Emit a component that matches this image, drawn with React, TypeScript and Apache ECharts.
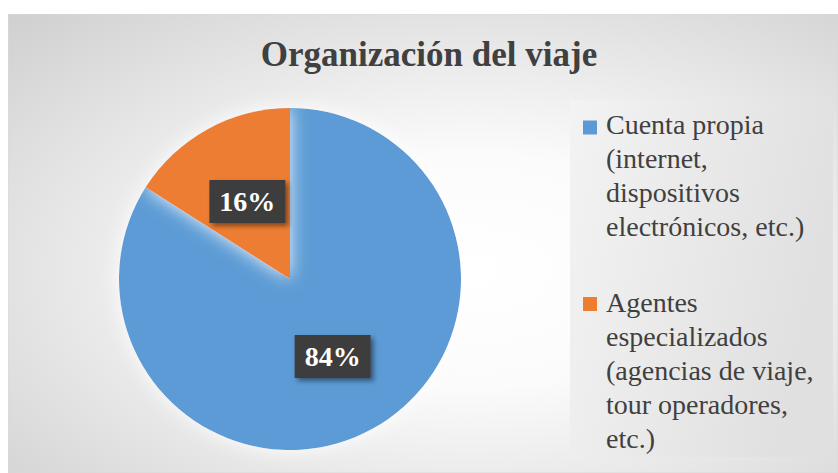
import React, { useEffect, useRef } from "react";
import * as echarts from "echarts";

const titleText = "Organización del viaje";
const categories = [
  "Cuenta propia (internet, dispositivos electrónicos, etc.)",
  "Agentes especializados (agencias de viaje, tour operadores, etc.)",
];
const values = [84, 16];
const colors = ["#5B9BD5", "#ED7D31"];
const legendLines = [
  ["Cuenta propia", "(internet,", "dispositivos", "electrónicos, etc.)"],
  ["Agentes", "especializados", "(agencias de viaje,", "tour operadores,", "etc.)"],
];

const FONT = "Liberation Serif";

export default function App() {
  const ref = useRef<HTMLDivElement>(null);

  useEffect(() => {
    if (!ref.current) return;
    const chart = echarts.init(ref.current, undefined, { renderer: "svg" });
    const W = 830;
    const H = 459;
    const legendTop = [93.5, 271.5];
    const markerTop = [106.5, 283];

    const legendGraphics: any[] = [];
    categories.forEach((c, i) => {
      legendGraphics.push({
        type: "rect",
        shape: { x: 575, y: markerTop[i], width: 14, height: 14 },
        style: { fill: colors[i] },
        z: 10,
      });
      legendGraphics.push({
        type: "text",
        x: 598,
        y: legendTop[i],
        style: {
          text: legendLines[i].join("\n"),
          fill: "#404040",
          fontSize: 28,
          fontFamily: FONT,
          lineHeight: 34,
          verticalAlign: "top",
          align: "left",
        },
        z: 10,
      });
    });

    chart.setOption({
      animation: false,
      graphic: [
        {
          type: "rect",
          shape: { x: 0, y: 0, width: W, height: H },
          style: {
            fill: {
              type: "radial",
              x: 0.56,
              y: 0.56,
              r: 1.15,
              colorStops: [
                { offset: 0, color: "#ffffff" },
                { offset: 0.22, color: "#fbfbfb" },
                { offset: 1, color: "#b2b2b2" },
              ],
            },
            stroke: "#d9d9d9",
            lineWidth: 1,
          },
          z: -10,
          silent: true,
        },
        {
          type: "rect",
          shape: { x: 562, y: 86, width: 263, height: 357 },
          style: {
            fill: {
              type: "linear",
              x: 0,
              y: 0,
              x2: 1,
              y2: 0.3,
              colorStops: [
                { offset: 0, color: "#f3f3f3" },
                { offset: 1, color: "#e0e0e0" },
              ],
            },
          },
          z: -5,
          silent: true,
        },
        {
          type: "text",
          x: 421,
          y: 40.2,
          style: {
            text: titleText,
            fill: "#404040",
            fontSize: 35,
            fontWeight: "bold",
            fontFamily: FONT,
            align: "center",
            verticalAlign: "middle",
          },
          z: 10,
        },
        ...legendGraphics,
      ],
      series: [
        {
          type: "pie",
          center: [282, 265],
          radius: [0, 171],
          startAngle: 90,
          clockwise: true,
          silent: true,
          itemStyle: {
            shadowBlur: 18,
            shadowColor: "rgba(255,255,255,0.9)",
          },
          label: {
            show: true,
            position: "inside",
            formatter: "{d}%",
            color: "#ffffff",
            fontSize: 28,
            fontWeight: "bold",
            fontFamily: FONT,
            lineHeight: 31,
            backgroundColor: "#3e3e3e",
            padding: [6, 10],
            shadowBlur: 5,
            shadowOffsetX: 3,
            shadowOffsetY: 3,
            shadowColor: "rgba(0,0,0,0.45)",
          },
          labelLine: { show: false },
          data: categories.map((name, i) => ({
            name,
            value: values[i],
            itemStyle: { color: colors[i] },
          })),
        },
      ],
    });
    return () => chart.dispose();
  }, []);

  return (
    <div
      ref={ref}
      style={{ position: "absolute", left: 8, top: 14, width: 830, height: 459 }}
    />
  );
}
